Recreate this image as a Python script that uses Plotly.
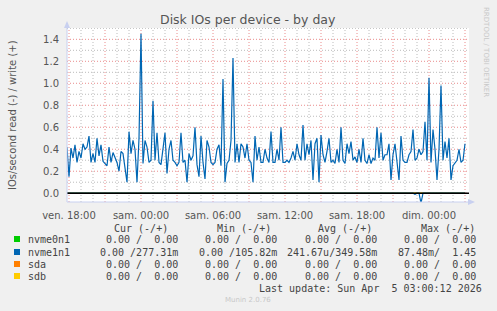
import plotly.graph_objects as go
import pandas as pd

# ---------------- data ----------------
start_time = "2026-04-03 17:50"
step = "10min"

write_values = [
    0.42, 0.15, 0.41, 0.32, 0.44, 0.28, 0.38, 0.32, 0.45, 0.40,
    0.42, 0.52, 0.28, 0.36, 0.28, 0.50, 0.34, 0.44, 0.29, 0.27,
    0.25, 0.42, 0.28, 0.37, 0.33, 0.28, 0.20, 0.38, 0.36, 0.22,
    0.10, 0.56, 0.36, 0.48, 0.40, 0.10, 0.50, 1.45, 0.27, 0.48,
    0.42, 0.28, 0.30, 0.84, 0.30, 0.55, 0.28, 0.26, 0.40, 0.55,
    0.18, 0.40, 0.48, 0.30, 0.28, 0.25, 0.28, 0.55, 0.28, 0.30,
    0.10, 0.36, 0.30, 0.34, 0.60, 0.26, 0.15, 0.52, 0.28, 0.13,
    0.48, 0.42, 0.28, 0.26, 0.28, 0.40, 0.44, 0.25, 1.04, 0.10,
    0.27, 0.30, 0.48, 1.23, 0.28, 0.45, 0.28, 0.45, 0.42, 0.32,
    0.45, 0.30, 0.28, 0.10, 0.52, 0.30, 0.42, 0.28, 0.28, 0.40,
    0.32, 0.28, 0.56, 0.28, 0.28, 0.40, 0.30, 0.60, 0.28, 0.28,
    0.30, 0.28, 0.32, 0.38, 0.30, 0.45, 0.35, 0.30, 0.62, 0.30,
    0.45, 0.35, 0.48, 0.12, 0.45, 0.50, 0.10, 0.53, 0.35, 0.28,
    0.38, 0.50, 0.28, 0.30, 0.27, 0.40, 0.28, 0.60, 0.30, 0.27,
    0.45, 0.36, 0.47, 0.30, 0.33, 0.28, 0.40, 0.28, 0.50, 0.30,
    0.27, 0.35, 0.27, 0.32, 0.30, 0.60, 0.32, 0.55, 0.30, 0.35,
    0.35, 0.45, 0.12, 0.35, 0.45, 0.30, 0.12, 0.52, 0.30, 0.28,
    0.28, 0.35, 0.38, 0.58, 0.30, 0.32, 0.40, 0.35, 0.38, 0.65,
    0.30, 1.05, 0.28, 0.58, 0.40, 0.12, 0.40, 0.98, 0.30, 0.47,
    0.32, 0.50, 0.12, 0.25, 0.28, 0.30, 0.40, 0.28, 0.30, 0.45,
]

read_values = [
    0, 0, 0, 0, 0, 0, 0, 0, 0, 0,
    0, 0, 0, 0, 0, 0, 0, 0, 0, 0,
    0, 0, 0, 0, 0, 0, 0, 0, 0, 0,
    0, 0, 0, 0, 0, 0, 0, 0, 0, 0,
    0, 0, 0, 0, 0, 0, 0, 0, 0, 0,
    0, 0, 0, 0, 0, 0, 0, 0, 0, 0,
    0, 0, 0, 0, 0, 0, 0, 0, 0, 0,
    0, 0, 0, 0, 0, 0, 0, 0, 0, 0,
    0, 0, 0, 0, 0, 0, 0, 0, 0, 0,
    0, 0, 0, 0, 0, 0, 0, 0, 0, 0,
    0, 0, 0, 0, 0, 0, 0, 0, 0, 0,
    0, 0, 0, 0, 0, 0, 0, 0, 0, 0,
    0, 0, 0, 0, 0, 0, 0, 0, 0, 0,
    0, 0, 0, 0, 0, 0, 0, 0, 0, 0,
    0, 0, 0, 0, 0, 0, 0, 0, 0, 0,
    0, 0, 0, 0, 0, 0, 0, 0, 0, 0,
    0, 0, 0, 0, 0, 0, 0, 0, 0, 0,
    0, 0, 0, 0, -0.01, 0, 0, -0.09, 0, 0,
    0, 0, 0, 0, 0, 0, 0, 0, 0, 0,
    0, 0, 0, 0, 0, 0, 0, 0, 0, 0,
]

devices = ["nvme0n1", "nvme1n1", "sda", "sdb"]
device_colors = ["#00CC00", "#0066B3", "#FF8000", "#FFCC00"]
cur_text = ["0.00 /  0.00", "0.00 /277.31m", "0.00 /  0.00", "0.00 /  0.00"]
min_text = ["0.00 /  0.00", "0.00 /105.82m", "0.00 /  0.00", "0.00 /  0.00"]
avg_text = ["0.00 /  0.00", "241.67u/349.58m", "0.00 /  0.00", "0.00 /  0.00"]
max_text = ["0.00 /  0.00", "87.48m/  1.45", "0.00 /  0.00", "0.00 /  0.00"]
col_headers = ["Cur (-/+)", "Min (-/+)", "Avg (-/+)", "Max (-/+)"]

x_tick_times = ["2026-04-03 18:00", "2026-04-04 00:00", "2026-04-04 06:00",
                "2026-04-04 12:00", "2026-04-04 18:00", "2026-04-05 00:00"]
x_tick_labels = ["ven. 18:00", "sam. 00:00", "sam. 06:00",
                 "sam. 12:00", "sam. 18:00", "dim. 00:00"]
# 3-hourly major grid and hourly minor grid
x_major_grid = ["2026-04-03 18:00", "2026-04-03 21:00", "2026-04-04 00:00",
                "2026-04-04 03:00", "2026-04-04 06:00", "2026-04-04 09:00",
                "2026-04-04 12:00", "2026-04-04 15:00", "2026-04-04 18:00",
                "2026-04-04 21:00", "2026-04-05 00:00", "2026-04-05 03:00"]
x_minor_grid = ["2026-04-03 19:00", "2026-04-03 20:00", "2026-04-03 22:00",
                "2026-04-03 23:00", "2026-04-04 01:00", "2026-04-04 02:00",
                "2026-04-04 04:00", "2026-04-04 05:00", "2026-04-04 07:00",
                "2026-04-04 08:00", "2026-04-04 10:00", "2026-04-04 11:00",
                "2026-04-04 13:00", "2026-04-04 14:00", "2026-04-04 16:00",
                "2026-04-04 17:00", "2026-04-04 19:00", "2026-04-04 20:00",
                "2026-04-04 22:00", "2026-04-04 23:00", "2026-04-05 01:00",
                "2026-04-05 02:00"]
y_tick_vals = [0.0, 0.2, 0.4, 0.6, 0.8, 1.0, 1.2, 1.4]
y_tick_labels = ["0.0", "0.2", "0.4", "0.6", "0.8", "1.0", "1.2", "1.4"]
y_minor_grid = [0.1, 0.3, 0.5, 0.7, 0.9, 1.1, 1.3, 1.5]

x_range = ["2026-04-03 17:50", "2026-04-05 03:20"]
y_range = [-0.08, 1.503]

# ---------------- layout helpers ----------------
W, H = 497, 311
PL, PR, PT, PB = 67, 469, 28, 202


def px(x):
    return (x - PL) / (PR - PL)


def py(y):
    return (PB - y) / (PB - PT)


times = pd.date_range(start=start_time, periods=len(write_values), freq=step)

fig = go.Figure()

# zero-valued devices
for name, col in zip(devices, device_colors):
    if name == "nvme1n1":
        continue
    fig.add_trace(go.Scatter(x=times, y=[0] * len(times), mode="lines",
                             line=dict(color=col, width=1), showlegend=False,
                             hoverinfo="skip"))

fig.add_trace(go.Scatter(x=times, y=read_values, mode="lines",
                         line=dict(color="#0066B3", width=1.2), showlegend=False))

# black zero line
fig.add_trace(go.Scatter(x=[x_range[0], x_range[1]], y=[0, 0], mode="lines",
                         line=dict(color="#000000", width=1.4), showlegend=False,
                         hoverinfo="skip"))

fig.add_trace(go.Scatter(x=times, y=write_values, mode="lines",
                         line=dict(color="#0066B3", width=1.2), showlegend=False))

axis_font = dict(family="DejaVu Sans", size=10, color="#555555")

fig.update_layout(
    width=W, height=H, autosize=False,
    margin=dict(l=PL, r=W - PR, t=PT, b=H - PB, pad=0),
    paper_bgcolor="#F0F0F0", plot_bgcolor="#FFFFFF",
    showlegend=False,
    xaxis=dict(
        type="date", range=x_range, tickmode="array",
        tickvals=x_tick_times, ticktext=x_tick_labels, showgrid=False,
        ticks="outside", ticklen=4, tickcolor="rgba(0,0,0,0)",
        tickfont=axis_font, zeroline=False, showline=False, fixedrange=True,
    ),
    yaxis=dict(
        range=y_range, tickmode="array", tickvals=y_tick_vals,
        ticktext=y_tick_labels, showgrid=False,
        ticks="outside", ticklen=5, tickcolor="rgba(0,0,0,0)",
        tickfont=axis_font, zeroline=False, showline=False, fixedrange=True,
    ),
)

major_col = "rgba(230,120,120,0.85)"
minor_col = "rgba(180,180,180,0.9)"
dot = "1px,2px"

shapes = []
for t in x_minor_grid:
    shapes.append(dict(type="line", xref="x", yref="paper", x0=t, x1=t, y0=0, y1=1,
                       layer="below", line=dict(color=minor_col, width=1, dash=dot)))
for v in y_minor_grid:
    shapes.append(dict(type="line", xref="paper", yref="y", x0=0, x1=1, y0=v, y1=v,
                       layer="below", line=dict(color=minor_col, width=1, dash=dot)))
for t in x_major_grid:
    shapes.append(dict(type="line", xref="x", yref="paper", x0=t, x1=t, y0=0, y1=1,
                       layer="below", line=dict(color=major_col, width=1, dash=dot)))
for v in y_tick_vals:
    shapes.append(dict(type="line", xref="paper", yref="y", x0=0, x1=1, y0=v, y1=v,
                       layer="below", line=dict(color=major_col, width=1, dash=dot)))

axis_col = "#C8D0F0"
shapes += [
    # y axis line + arrow
    dict(type="line", xref="paper", yref="paper", x0=px(67), x1=px(67),
         y0=py(202), y1=py(24), line=dict(color=axis_col, width=1)),
    dict(type="path", xref="paper", yref="paper",
         path=f"M {px(64)} {py(28)} L {px(70)} {py(28)} L {px(67)} {py(21)} Z",
         fillcolor=axis_col, line=dict(width=0)),
    # x axis line + arrow
    dict(type="line", xref="paper", yref="paper", x0=px(67), x1=px(472),
         y0=py(202), y1=py(202), line=dict(color=axis_col, width=1)),
    dict(type="path", xref="paper", yref="paper",
         path=f"M {px(468)} {py(199)} L {px(468)} {py(205)} L {px(475)} {py(202)} Z",
         fillcolor=axis_col, line=dict(width=0)),
]

annotations = []
# title
annotations.append(dict(text="Disk IOs per device - by day", xref="paper", yref="paper",
                        x=px(248), y=py(19), showarrow=False, xanchor="center",
                        yanchor="middle",
                        font=dict(family="DejaVu Sans", size=12.5, color="#555555")))
# y axis title
annotations.append(dict(text="IOs/second read (-) / write (+)", xref="paper", yref="paper",
                        x=px(12), y=py(115), showarrow=False, textangle=-90,
                        xanchor="center", yanchor="middle",
                        font=dict(family="DejaVu Sans", size=10, color="#555555")))
# watermark
annotations.append(dict(text="RRDTOOL / TOBI OETIKER", xref="paper", yref="paper",
                        x=px(486), y=py(52), showarrow=False, textangle=90,
                        xanchor="center", yanchor="middle",
                        font=dict(family="DejaVu Sans", size=7, color="#C8C8C8")))

mono = dict(family="DejaVu Sans Mono", size=10, color="#444444")
header_right = [169, 272, 373, 476]
col_right = [179, 278, 378, 477]
for hdr, xr in zip(col_headers, header_right):
    annotations.append(dict(text=hdr.replace(" ", "&nbsp;"), xref="paper", yref="paper",
                            x=px(xr + 1), y=py(228), showarrow=False,
                            xanchor="right", yanchor="middle", font=mono))

row_y = [239, 252, 264, 276]
for i, name in enumerate(devices):
    yy = row_y[i]
    shapes.append(dict(type="rect", xref="paper", yref="paper",
                       x0=px(14), x1=px(20), y0=py(yy - 3), y1=py(yy + 3),
                       fillcolor=device_colors[i], line=dict(width=0)))
    annotations.append(dict(text=name, xref="paper", yref="paper", x=px(26), y=py(yy),
                            showarrow=False, xanchor="left", yanchor="middle",
                            font=mono))
    for vals, xr in zip([cur_text, min_text, avg_text, max_text], col_right):
        annotations.append(dict(text=vals[i].replace(" ", "&nbsp;"), xref="paper",
                                yref="paper", x=px(xr + 1), y=py(yy),
                                showarrow=False, xanchor="right", yanchor="middle",
                                font=mono))

annotations.append(dict(text="Last update: Sun Apr  5 03:00:12 2026".replace(" ", "&nbsp;"),
                        xref="paper", yref="paper", x=px(484), y=py(288),
                        showarrow=False, xanchor="right", yanchor="middle", font=mono))
annotations.append(dict(text="Munin 2.0.76", xref="paper", yref="paper",
                        x=px(248), y=py(300), showarrow=False, xanchor="center",
                        yanchor="middle",
                        font=dict(family="DejaVu Sans", size=7, color="#C8C8C8")))

fig.update_layout(shapes=shapes, annotations=annotations)

fig.write_html("out.html", config={"displayModeBar": False})
